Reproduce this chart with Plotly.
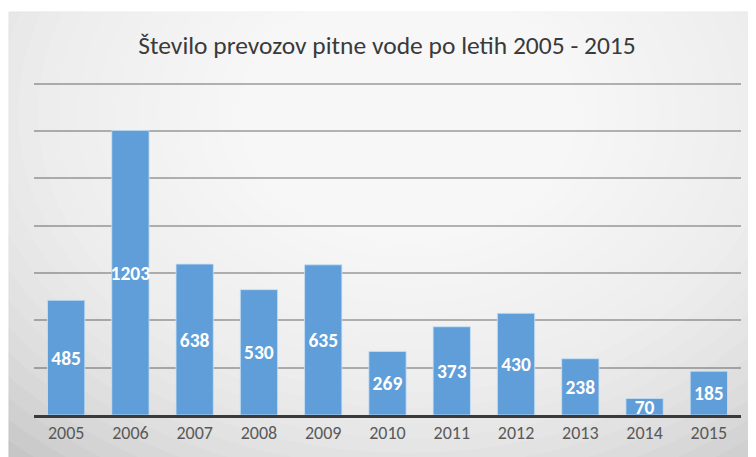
import plotly.graph_objects as go

years = ["2005", "2006", "2007", "2008", "2009", "2010", "2011", "2012", "2013", "2014", "2015"]
counts = [485, 1203, 638, 530, 635, 269, 373, 430, 238, 70, 185]
title_text = "Število prevozov pitne vode po letih 2005 - 2015"

W, H = 756, 457
FONT = "Carlito, Calibri, 'Liberation Sans Narrow', 'Open Sans', sans-serif"

# page body has an 8px margin, so figure coords = screen coords - 8
L, T = 26, 74
PW, PH = 707, 333
R = W - L - PW
B = H - T - PH


def px_x(fx):
    return (fx - L) / PW


def px_y(fy):
    return (T + PH - fy) / PH


fig = go.Figure()
fig.add_trace(go.Bar(
    x=years, y=counts,
    marker=dict(color="#5f9ed8", line=dict(color="rgba(200,225,245,0.8)", width=1)),
    text=[str(c) for c in counts],
    textposition="inside", insidetextanchor="middle", textangle=0,
    constraintext="none",
    textfont=dict(family=FONT, size=19.5, color="white", weight="bold"),
    hoverinfo="skip",
))

shapes = []
shapes.append(dict(type="rect", xref="paper", yref="paper",
                   x0=px_x(1), x1=px_x(W + 5), y0=px_y(H + 5), y1=px_y(4),
                   fillcolor="#c6c6c6", line=dict(color="#bdbdbd", width=1), layer="below"))
N = 28
cfx, cfy = 400, 105
for i in range(N):
    f = 1 - i / N
    rx = 560 * f + 30
    ry = 420 * f + 25
    shapes.append(dict(type="circle", xref="paper", yref="paper",
                       x0=px_x(cfx - rx), x1=px_x(cfx + rx),
                       y0=px_y(cfy + ry), y1=px_y(cfy - ry),
                       fillcolor="rgba(255,255,255,0.10)", line=dict(width=0), layer="below"))

fig.update_layout(
    width=W, height=H,
    margin=dict(l=L, r=R, t=T, b=B),
    paper_bgcolor="white",
    plot_bgcolor="rgba(0,0,0,0)",
    shapes=shapes,
    bargap=0.42,
    showlegend=False,
    title=dict(text=title_text, x=(387 - 8) / W, xanchor="center", y=1 - 37 / H, yanchor="middle",
               font=dict(family=FONT, size=25.5, color="#3a3a3a")),
    xaxis=dict(showgrid=False, showline=True, linecolor="#3a3a3a", linewidth=2.5,
               ticks="", tickfont=dict(family=FONT, size=18, color="#595959"),
               zeroline=False),
    yaxis=dict(range=[0, 1408], dtick=200, showgrid=True, gridcolor="rgba(0,0,0,0.28)", gridwidth=2,
               showticklabels=False, zeroline=False, showline=False, ticks=""),
)

fig.write_html("out.html")
